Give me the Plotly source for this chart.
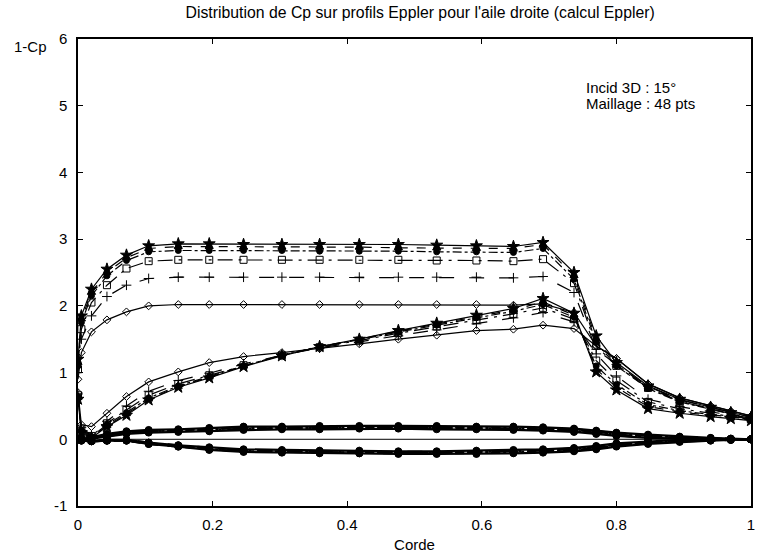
import plotly.graph_objects as go

# chord stations
x_pts = [0.0, 0.005, 0.02, 0.043, 0.072, 0.105, 0.149, 0.195, 0.246, 0.303, 0.359,
         0.418, 0.476, 0.533, 0.592, 0.647, 0.691, 0.737, 0.77, 0.80, 0.847, 0.894,
         0.94, 0.97, 1.0]

sections = ["S1", "S2", "S3", "S4", "S5", "S6"]

x_ticks = [0, 0.2, 0.4, 0.6, 0.8, 1]
x_ticklabels = ["0", "0.2", "0.4", "0.6", "0.8", "1"]
y_ticks = [-1, 0, 1, 2, 3, 4, 5, 6]
y_ticklabels = ["-1", "0", "1", "2", "3", "4", "5", "6"]

# upper-surface plateau curves (1-Cp)
upper = {
    "S1": [1.20, 1.85, 2.25, 2.55, 2.76, 2.90, 2.93, 2.93, 2.92, 2.92, 2.92, 2.92, 2.92, 2.91, 2.90, 2.89, 2.95, 2.50, 1.55, 1.15, 0.80, 0.60, 0.48, 0.40, 0.33],
    "S2": [1.15, 1.80, 2.20, 2.50, 2.72, 2.86, 2.89, 2.89, 2.88, 2.88, 2.88, 2.88, 2.87, 2.87, 2.86, 2.86, 2.92, 2.45, 1.50, 1.12, 0.78, 0.58, 0.46, 0.38, 0.31],
    "S3": [1.10, 1.75, 2.15, 2.45, 2.68, 2.81, 2.83, 2.83, 2.83, 2.83, 2.82, 2.82, 2.82, 2.81, 2.81, 2.80, 2.86, 2.40, 1.45, 1.10, 0.76, 0.56, 0.45, 0.37, 0.30],
    "S4": [1.05, 1.65, 2.05, 2.31, 2.56, 2.67, 2.69, 2.69, 2.69, 2.69, 2.69, 2.69, 2.69, 2.68, 2.68, 2.67, 2.70, 2.34, 1.40, 1.10, 0.77, 0.57, 0.46, 0.38, 0.31],
    "S5": [1.00, 1.50, 1.85, 2.14, 2.31, 2.41, 2.43, 2.43, 2.43, 2.43, 2.43, 2.43, 2.43, 2.43, 2.43, 2.42, 2.44, 2.20, 1.35, 1.12, 0.79, 0.59, 0.48, 0.40, 0.33],
    "S6": [0.90, 1.30, 1.61, 1.79, 1.91, 2.00, 2.02, 2.02, 2.02, 2.02, 2.02, 2.02, 2.02, 2.02, 2.02, 2.01, 2.03, 1.90, 1.40, 1.21, 0.83, 0.62, 0.50, 0.42, 0.35],
}

# ramp curves
ramp = {
    "S1": [0.60, 0.10, 0.02, 0.19, 0.36, 0.59, 0.78, 0.92, 1.09, 1.25, 1.39, 1.50, 1.63, 1.74, 1.86, 1.96, 2.11, 1.89, 1.01, 0.74, 0.46, 0.39, 0.34, 0.31, 0.28],
    "S2": [0.62, 0.12, 0.03, 0.20, 0.38, 0.60, 0.79, 0.93, 1.10, 1.26, 1.39, 1.50, 1.62, 1.73, 1.84, 1.94, 2.06, 1.86, 1.05, 0.78, 0.49, 0.41, 0.36, 0.32, 0.29],
    "S3": [0.64, 0.14, 0.04, 0.22, 0.40, 0.62, 0.80, 0.94, 1.10, 1.26, 1.39, 1.49, 1.61, 1.71, 1.82, 1.92, 2.02, 1.83, 1.10, 0.82, 0.52, 0.43, 0.37, 0.33, 0.30],
    "S4": [0.66, 0.16, 0.05, 0.24, 0.44, 0.66, 0.83, 0.96, 1.11, 1.26, 1.38, 1.48, 1.59, 1.69, 1.79, 1.88, 1.97, 1.80, 1.18, 0.88, 0.56, 0.46, 0.39, 0.34, 0.31],
    "S5": [0.68, 0.18, 0.06, 0.27, 0.50, 0.72, 0.88, 0.99, 1.13, 1.26, 1.37, 1.46, 1.55, 1.64, 1.73, 1.82, 1.90, 1.76, 1.28, 0.95, 0.60, 0.49, 0.41, 0.36, 0.32],
    "S6": [0.70, 0.22, 0.19, 0.39, 0.64, 0.86, 1.01, 1.15, 1.24, 1.30, 1.36, 1.43, 1.50, 1.56, 1.63, 1.65, 1.71, 1.66, 1.40, 1.21, 0.83, 0.62, 0.50, 0.42, 0.35],
}

# near-zero bands
band_hi = {
    "S1": [0.0, 0.00, 0.03, 0.08, 0.12, 0.14, 0.15, 0.17, 0.19, 0.19, 0.20, 0.20, 0.20, 0.20, 0.19, 0.19, 0.18, 0.16, 0.13, 0.10, 0.07, 0.04, 0.02, 0.01, 0.00],
    "S2": [0.0, 0.00, 0.02, 0.07, 0.11, 0.13, 0.14, 0.16, 0.18, 0.18, 0.19, 0.19, 0.19, 0.19, 0.18, 0.18, 0.17, 0.15, 0.12, 0.09, 0.06, 0.03, 0.02, 0.01, 0.00],
    "S3": [0.0, 0.00, 0.02, 0.06, 0.10, 0.12, 0.13, 0.15, 0.17, 0.17, 0.18, 0.18, 0.18, 0.18, 0.17, 0.17, 0.16, 0.14, 0.11, 0.08, 0.05, 0.03, 0.01, 0.00, 0.00],
    "S4": [0.0, 0.00, 0.02, 0.06, 0.10, 0.12, 0.13, 0.14, 0.16, 0.17, 0.17, 0.18, 0.18, 0.17, 0.17, 0.16, 0.15, 0.13, 0.10, 0.07, 0.04, 0.02, 0.01, 0.00, 0.00],
    "S5": [0.0, 0.00, 0.01, 0.05, 0.09, 0.11, 0.12, 0.13, 0.15, 0.16, 0.16, 0.17, 0.17, 0.17, 0.16, 0.15, 0.14, 0.12, 0.09, 0.06, 0.03, 0.01, 0.00, 0.00, 0.00],
    "S6": [0.0, 0.00, 0.01, 0.04, 0.08, 0.10, 0.11, 0.12, 0.14, 0.15, 0.15, 0.16, 0.16, 0.15, 0.15, 0.14, 0.13, 0.11, 0.08, 0.05, 0.02, 0.01, 0.00, 0.00, 0.00],
}
band_lo = {
    "S1": [0.0, -0.02, -0.03, -0.02, -0.02, -0.07, -0.11, -0.16, -0.19, -0.20, -0.21, -0.21, -0.22, -0.22, -0.22, -0.21, -0.20, -0.18, -0.15, -0.11, -0.07, -0.04, -0.02, -0.01, 0.00],
    "S2": [0.0, -0.02, -0.03, -0.02, -0.02, -0.07, -0.11, -0.15, -0.18, -0.19, -0.20, -0.21, -0.21, -0.21, -0.21, -0.20, -0.19, -0.17, -0.14, -0.10, -0.06, -0.03, -0.02, -0.01, 0.00],
    "S3": [0.0, -0.02, -0.03, -0.02, -0.02, -0.06, -0.10, -0.15, -0.18, -0.19, -0.20, -0.20, -0.20, -0.20, -0.20, -0.19, -0.18, -0.16, -0.13, -0.09, -0.05, -0.03, -0.01, 0.00, 0.00],
    "S4": [0.0, -0.01, -0.02, -0.02, -0.01, -0.06, -0.10, -0.14, -0.17, -0.18, -0.19, -0.19, -0.20, -0.20, -0.19, -0.18, -0.17, -0.15, -0.12, -0.08, -0.05, -0.02, -0.01, 0.00, 0.00],
    "S5": [0.0, -0.01, -0.02, -0.01, -0.01, -0.05, -0.09, -0.13, -0.16, -0.17, -0.18, -0.18, -0.19, -0.19, -0.18, -0.17, -0.16, -0.14, -0.11, -0.07, -0.04, -0.02, -0.01, 0.00, 0.00],
    "S6": [0.0, -0.01, -0.02, -0.01, -0.01, -0.05, -0.09, -0.12, -0.15, -0.16, -0.17, -0.17, -0.18, -0.18, -0.17, -0.16, -0.15, -0.13, -0.10, -0.06, -0.03, -0.01, 0.00, 0.00, 0.00],
}

zero_x = [0.075, 1.0]
zero_y = [0.0, 0.0]

symbols = {"S1": "star", "S2": "triangle-up", "S3": "circle", "S4": "square-open",
           "S5": "cross-thin-open", "S6": "diamond-open"}
dashes = {"S1": "solid", "S2": "dash", "S3": "dashdot", "S4": "longdashdot",
          "S5": "longdash", "S6": "solid"}
sizes = {"S1": 9, "S2": 7, "S3": 6, "S4": 7, "S5": 7, "S6": 6}

fig = go.Figure()

fig.add_trace(go.Scatter(x=zero_x, y=zero_y, mode="lines",
                         line=dict(color="black", width=1), showlegend=False,
                         hoverinfo="skip"))

for group, width in ((band_lo, 2.2), (band_hi, 2.2), (ramp, 1.2), (upper, 1.2)):
    for s in sections:
        fig.add_trace(go.Scatter(
            x=x_pts, y=group[s], mode="lines+markers",
            line=dict(color="black", width=width, dash=dashes[s]),
            marker=dict(symbol=symbols[s] if group in (ramp, upper) else "circle",
                        size=sizes[s] if group in (ramp, upper) else 7,
                        color="black", line=dict(color="black", width=1)),
            showlegend=False, name=s))

font_main = "Liberation Sans, Arial, sans-serif"

fig.update_layout(
    width=757, height=555,
    margin=dict(l=78, r=6, t=39, b=49),
    paper_bgcolor="white", plot_bgcolor="white",
    font=dict(family=font_main, size=15, color="black"),
    title=dict(text="Distribution de Cp sur profils Eppler pour l'aile droite (calcul Eppler)",
               x=0.555, xanchor="center", y=0.977, yanchor="middle",
               font=dict(size=15.8, family=font_main, color="black")),
    xaxis=dict(range=[0, 1], tickvals=x_ticks, ticktext=x_ticklabels,
               ticks="inside", ticklen=5, tickcolor="black",
               showline=True, linecolor="black", linewidth=1.5, mirror="ticks",
               showgrid=False, zeroline=False, ticklabelstandoff=4,
               automargin=False,
               title=dict(text="Corde", standoff=8, font=dict(size=15)),
               tickfont=dict(size=15)),
    yaxis=dict(range=[-1, 6], tickvals=y_ticks, ticktext=y_ticklabels,
               ticks="inside", ticklen=5, tickcolor="black",
               showline=True, linecolor="black", linewidth=1.5, mirror="ticks",
               showgrid=False, zeroline=False, ticklabelstandoff=6,
               automargin=False, tickfont=dict(size=15)),
    annotations=[
        dict(text="1-Cp", xref="paper", yref="paper", x=-0.07, y=0.985,
             xanchor="center", yanchor="middle", showarrow=False,
             font=dict(size=15)),
        dict(text="Incid 3D : 15°", xref="paper", yref="paper",
             x=0.752, y=0.896, xanchor="left", yanchor="middle", align="left",
             showarrow=False, font=dict(size=15)),
        dict(text="Maillage : 48 pts", xref="paper", yref="paper",
             x=0.752, y=0.862, xanchor="left", yanchor="middle", align="left",
             showarrow=False, font=dict(size=15)),
    ],
)

fig.write_html("out.html")
